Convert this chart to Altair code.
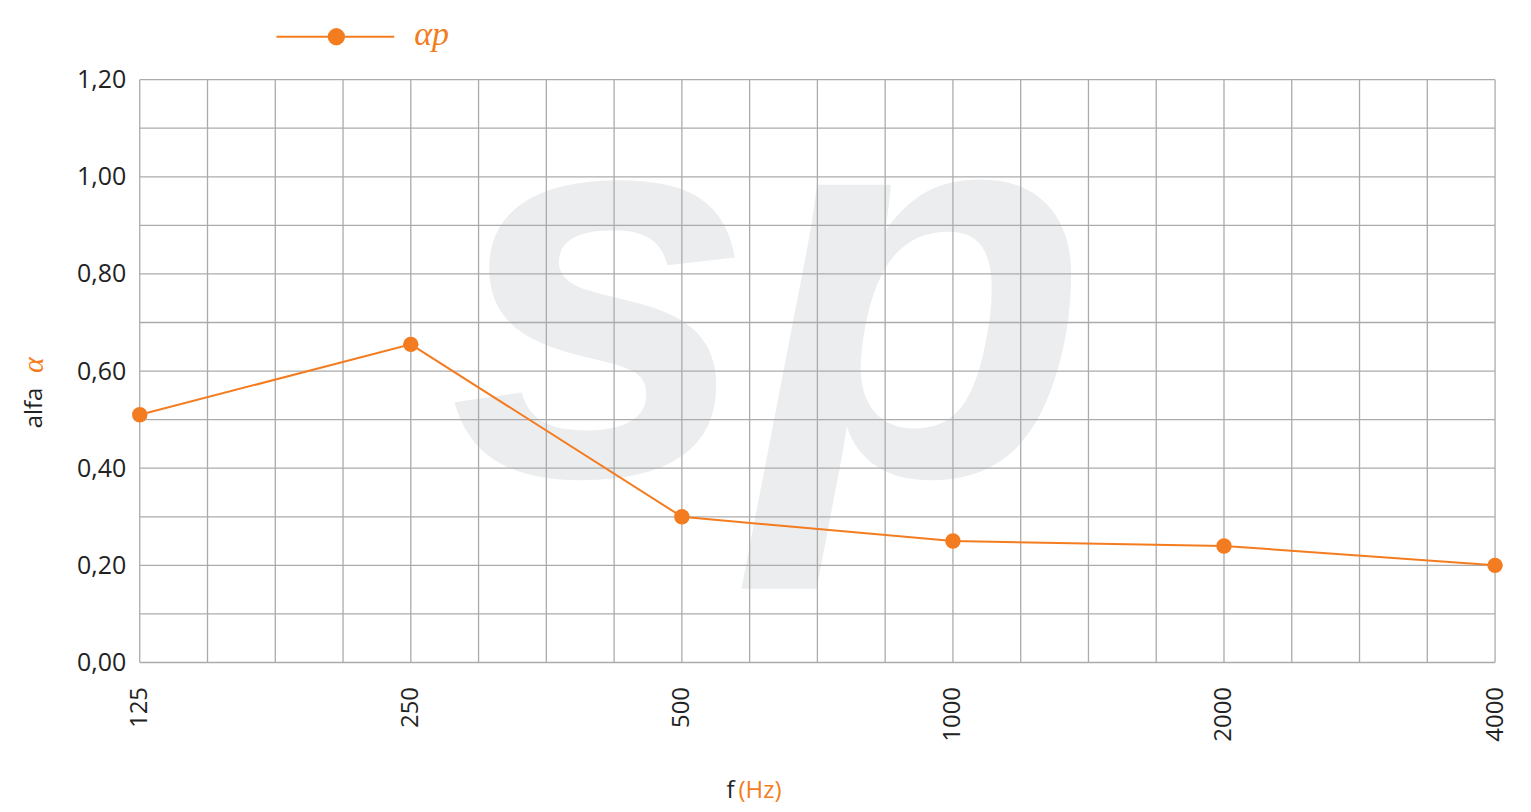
import altair as alt
import pandas as pd

freqs = ["125", "250", "500", "1000", "2000", "4000"]
alpha_p = [0.51, 0.655, 0.30, 0.25, 0.24, 0.20]
y_ticks = [0.0, 0.2, 0.4, 0.6, 0.8, 1.0, 1.2]
x_grid = [i * 0.25 for i in range(21)]
y_grid = [i / 10 for i in range(13)]

ORANGE = "#F47C20"
GRID = "#ABABAB"
TXT = "#222222"
FONT = "Open Sans"
W, H = 1358, 584

df = pd.DataFrame({"idx": list(range(len(freqs))), "freq": freqs, "alpha": alpha_p})

xscale = alt.Scale(domain=[0, 5], nice=False, zero=False)
yscale = alt.Scale(domain=[0, 1.2], nice=False)

label_expr = "[" + ",".join("'%s'" % f for f in freqs) + "][datum.value]"

xaxis = alt.Axis(values=list(range(len(freqs))), labelExpr=label_expr, labelAngle=-90,
                 labelFontSize=24, labelFont=FONT, labelColor=TXT, labelPadding=24,
                 domain=False, ticks=False, grid=False, title=None)
yaxis = alt.Axis(values=y_ticks, labelExpr="replace(format(datum.value, '.2f'), '.', ',')",
                 labelFontSize=25, labelFont=FONT, labelColor=TXT, labelPadding=14,
                 domain=False, ticks=False, grid=False, title=None)

one = alt.Data(values=[{}])

watermark = alt.Chart(one).mark_text(
    text="sp", font="Liberation Sans", fontStyle="italic", fontWeight="bold",
    fontSize=550, color="#ECEDEF", align="center", baseline="alphabetic"
).encode(x=alt.value(630), y=alt.value(396))

vgrid = alt.Chart(pd.DataFrame({"g": x_grid})).mark_rule(color=GRID, strokeWidth=1.3).encode(
    x=alt.X("g:Q", scale=xscale, axis=xaxis))
hgrid = alt.Chart(pd.DataFrame({"g": y_grid})).mark_rule(color=GRID, strokeWidth=1.3).encode(
    y=alt.Y("g:Q", scale=yscale, axis=yaxis))

line = alt.Chart(df).mark_line(color=ORANGE, strokeWidth=2).encode(
    x=alt.X("idx:Q", scale=xscale, axis=xaxis),
    y=alt.Y("alpha:Q", scale=yscale, axis=yaxis))
pts = alt.Chart(df).mark_point(filled=True, color=ORANGE, size=240, opacity=1).encode(
    x=alt.X("idx:Q", scale=xscale, axis=xaxis),
    y=alt.Y("alpha:Q", scale=yscale, axis=yaxis))

# legend
leg_line = alt.Chart(one).mark_rule(color=ORANGE, strokeWidth=2).encode(
    x=alt.value(137), x2=alt.value(255), y=alt.value(-43))
leg_pt = alt.Chart(one).mark_point(filled=True, color=ORANGE, size=300, opacity=1).encode(
    x=alt.value(197), y=alt.value(-43))
leg_txt = alt.Chart(one).mark_text(text="αp", font="Liberation Serif", fontStyle="italic",
                                   fontSize=34, color=ORANGE, align="left", baseline="middle").encode(
    x=alt.value(275), y=alt.value(-45))

# axis titles
ytitle1 = alt.Chart(one).mark_text(text="alfa", font=FONT, fontSize=24, color=TXT, angle=270,
                                   align="center", baseline="middle").encode(
    x=alt.value(-105), y=alt.value(329))
ytitle2 = alt.Chart(one).mark_text(text="α", font="Liberation Serif", fontStyle="italic", fontSize=30,
                                   color=ORANGE, angle=270, align="center", baseline="middle").encode(
    x=alt.value(-106), y=alt.value(286))
xtitle1 = alt.Chart(one).mark_text(text="f", font=FONT, fontSize=24, color=TXT,
                                   align="right", baseline="middle").encode(
    x=alt.value(596), y=alt.value(713))
xtitle2 = alt.Chart(one).mark_text(text="(Hz)", font=FONT, fontSize=24, color=ORANGE,
                                   align="left", baseline="middle").encode(
    x=alt.value(600), y=alt.value(713))

chart = alt.layer(watermark, vgrid, hgrid, line, pts, leg_line, leg_pt, leg_txt,
                  ytitle1, ytitle2, xtitle1, xtitle2).properties(
    width=W, height=H,
    autosize=alt.AutoSizeParams(type="none"),
    padding={"left": 132, "top": 71, "right": 28, "bottom": 148},
    background="white",
).configure_view(stroke=None)

chart.save("out.html", embed_options={"renderer": "svg", "actions": False})
